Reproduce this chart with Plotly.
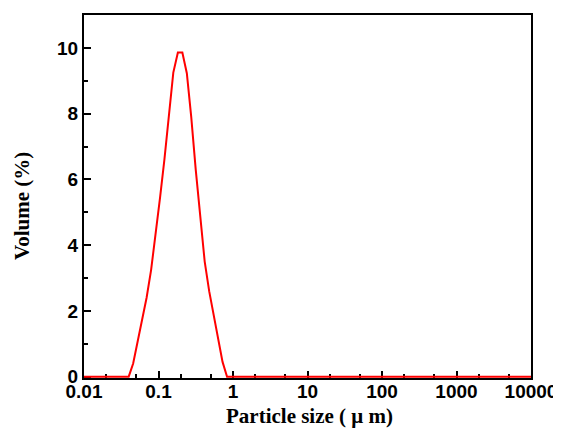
import plotly.graph_objects as go

# Particle size (um) and volume (%)
size_um = [0.01, 0.0398, 0.0457, 0.0525, 0.0603, 0.0692, 0.0796, 0.0912, 0.105, 0.120,
           0.138, 0.158, 0.182, 0.209, 0.240, 0.275, 0.316, 0.363, 0.417, 0.479,
           0.550, 0.631, 0.724, 0.832, 10000]
volume_pct = [0, 0, 0.4, 1.05, 1.7, 2.4, 3.25, 4.3, 5.45, 6.6,
              7.85, 9.25, 9.86, 9.86, 9.23, 7.9, 6.3, 4.9, 3.5, 2.6,
              1.85, 1.1, 0.45, 0, 0]

x_tickvals = [0.01, 0.1, 1, 10, 100, 1000, 10000]
x_ticktext = ["0.01", "0.1", "1", "10", "100", "1000", "10000"]
y_tickvals = [0, 2, 4, 6, 8, 10]

fig = go.Figure()
fig.add_trace(go.Scatter(x=size_um, y=volume_pct, mode="lines", cliponaxis=False,
                         line=dict(color="#ff0000", width=2), showlegend=False))

tickfont = dict(family="Liberation Sans, Arial, sans-serif", size=19, color="black", weight="bold")
titlefont = dict(family="Liberation Serif, Times New Roman, serif", size=21, color="black")

# page body adds an 8px offset; compensate in size and margins
fig.update_layout(
    width=553, height=426,
    margin=dict(l=76, r=30, t=7, b=56),
    paper_bgcolor="white", plot_bgcolor="white",
    annotations=[
        dict(text="<b>Particle size ( μ m)</b>", xref="paper", yref="paper",
             x=(309 - 84) / 447, y=-38 / 363,
             xanchor="center", yanchor="middle", showarrow=False, font=titlefont),
        dict(text="<b>Volume (%)</b>", xref="paper", yref="paper",
             x=(22 - 84) / 447, y=(378 - 206) / 363, textangle=-90,
             xanchor="center", yanchor="middle", showarrow=False, font=titlefont),
    ],
)
fig.update_xaxes(
    type="log", range=[-2, 4], automargin=False,
    tickvals=x_tickvals, ticktext=x_ticktext,
    ticks="inside", ticklen=7, tickwidth=2, tickcolor="black",
    minor=dict(ticks="inside", ticklen=4, tickwidth=2, tickcolor="black", showgrid=False),
    showline=True, linewidth=2, linecolor="black", mirror=True,
    showgrid=False, zeroline=False, layer="below traces",
    tickfont=tickfont, ticklabelstandoff=-5,
)
fig.update_yaxes(
    range=[-0.04, 11], automargin=False,
    tickvals=y_tickvals,
    ticks="inside", ticklen=7, tickwidth=2, tickcolor="black",
    minor=dict(ticks="inside", ticklen=4, tickwidth=2, tickcolor="black", dtick=1, showgrid=False),
    showline=True, linewidth=2, linecolor="black", mirror=True,
    showgrid=False, zeroline=False, layer="below traces",
    tickfont=tickfont,
)

fig.write_html("out.html")
